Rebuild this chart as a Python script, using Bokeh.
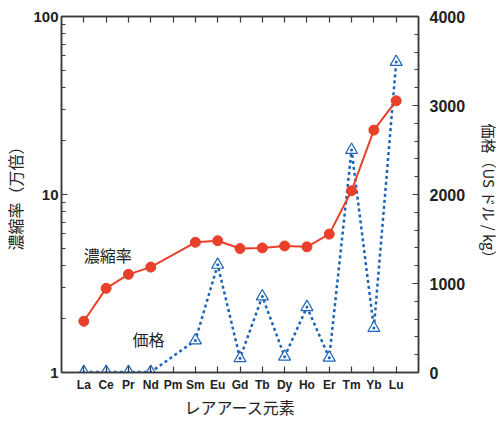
from bokeh.plotting import figure
from bokeh.models import (Range1d, LinearAxis, CategoricalAxis, FixedTicker,
                          SingleIntervalTicker, FactorRange, ColumnDataSource,
                          LinearScale, NumeralTickFormatter)
from bokeh.core.properties import value
from bokeh.embed import file_html
from bokeh.resources import INLINE

# ---- data ----
elements = ["La", "Ce", "Pr", "Nd", "Pm", "Sm", "Eu", "Gd", "Tb", "Dy",
            "Ho", "Er", "Tm", "Yb", "Lu"]
concentration = [1.94, 2.97, 3.56, 3.91, None, 5.39, 5.50, 4.97, 5.01, 5.14,
                 5.08, 5.99, 10.5, 23.0, 33.6]          # 万倍 (log axis)
price = [5, 5, 5, 5, None, 360, 1210, 160, 855, 178,
         735, 167, 2500, 500, 3490]                     # US$/kg
left_ticks = [1, 10, 100]
left_minor = [2, 3, 4, 5, 6, 7, 8, 9, 20, 30, 40, 50, 60, 70, 80, 90]
price_range = (0, 4000)

RED = "#e8402b"
BLUE = "#1b63b6"
AX = "#3a3a3a"
JP = "Noto Sans CJK JP"
NUM = "Liberation Sans"

conc_src = ColumnDataSource(dict(
    x=[e for e, v in zip(elements, concentration) if v is not None],
    y=[v for v in concentration if v is not None]))
price_src = ColumnDataSource(dict(
    x=[e for e, v in zip(elements, price) if v is not None],
    y=[v for v in price if v is not None]))

p = figure(width=504, height=421, output_backend="svg", toolbar_location=None,
           x_range=FactorRange(*elements, range_padding=0.5,
                               range_padding_units="absolute"),
           y_axis_type="log", y_range=Range1d(1, 100),
           min_border_left=60, min_border_right=86, min_border_top=16,
           min_border_bottom=45)
p.extra_y_ranges = {"price": Range1d(*price_range)}
p.extra_y_scales = {"price": LinearScale()}
p.xgrid.visible = False
p.ygrid.visible = False
p.outline_line_color = AX
p.outline_line_width = 1.5
p.background_fill_color = "white"
p.border_fill_color = "white"


def style(ax):
    ax.axis_line_color = AX
    ax.axis_line_width = 1.5
    ax.major_tick_line_color = AX
    ax.minor_tick_line_color = AX
    ax.major_tick_line_width = 1.2
    ax.minor_tick_line_width = 1.2
    ax.major_tick_in = 6
    ax.major_tick_out = 0
    ax.minor_tick_in = 4
    ax.minor_tick_out = 0
    ax.major_label_text_font = NUM
    ax.major_label_text_font_style = "bold"
    ax.major_label_text_color = "#222222"
    ax.major_label_text_line_height = 0.9
    ax.axis_label_text_font = JP
    ax.axis_label_text_font_style = "normal"
    ax.axis_label_text_color = "#222222"
    ax.axis_label_text_font_size = "15px"
    ax.axis_label_text_line_height = 0.9


# left log axis
ly = p.yaxis[0]
style(ly)
ly.ticker = FixedTicker(ticks=left_ticks, minor_ticks=left_minor)
ly.formatter = NumeralTickFormatter(format="0")
ly.major_label_text_font_size = "15px"
ly.major_label_standoff = 3
ly.axis_label = "濃縮率（万倍）"
ly.axis_label_standoff = 3
ly.axis_label_text_font_size = "16px"

# bottom axis
bx = p.xaxis[0]
style(bx)
bx.major_label_text_font_size = "12px"
bx.major_label_standoff = 5
bx.axis_label = "レアアース元素"
bx.axis_label_standoff = 0
bx.axis_label_text_font_size = "16px"

# top axis (ticks only)
tx = CategoricalAxis()
style(tx)
tx.major_label_text_font_size = "0px"
tx.major_label_standoff = 0
p.add_layout(tx, "above")

# right price axis
ry = LinearAxis(y_range_name="price",
                ticker=SingleIntervalTicker(interval=1000, num_minor_ticks=5))
style(ry)
ry.major_label_text_font_size = "16px"
ry.major_label_standoff = 11
ry.axis_label = "価格（US ドル / kg）"
ry.axis_label_standoff = 11
p.add_layout(ry, "right")

# price series
p.line("x", "y", source=price_src, y_range_name="price", color=BLUE,
       line_width=2.5, line_dash="3 3")
p.scatter("x", "y", source=price_src, y_range_name="price", marker="triangle",
          size=12, line_color=BLUE, line_width=1.2, fill_color="white")
p.scatter("x", "y", source=price_src, y_range_name="price", marker="circle",
          size=3, line_color=None, fill_color=BLUE)

# concentration series
p.line("x", "y", source=conc_src, color=RED, line_width=2)
p.scatter("x", "y", source=conc_src, marker="circle", size=10,
          line_color=RED, fill_color=RED)

# in-plot series labels
p.text(x=[elements[0]], y=[4.6], text=["濃縮率"], text_font=value(JP),
       text_font_size="16px", text_color="#222222", text_baseline="middle",
       text_align="left", x_offset=0)
p.text(x=[elements[2]], y=[380], text=["価格"], y_range_name="price",
       text_font=value(JP), text_font_size="16px", text_color="#222222",
       text_baseline="middle", text_align="left", x_offset=4)

open("out.html", "w").write(file_html(p, INLINE))
